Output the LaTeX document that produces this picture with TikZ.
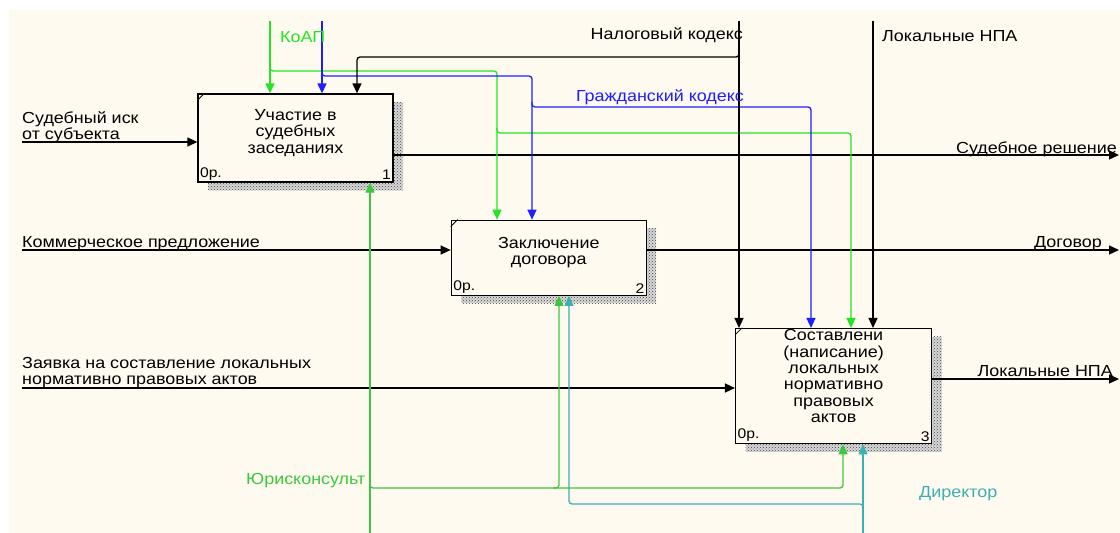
\documentclass[tikz,border=0pt]{standalone}
\usepackage{fontspec}
\setmainfont{Liberation Sans}[FakeStretch=1.12]
\usetikzlibrary{arrows.meta, positioning, calc, patterns}
\definecolor{paper}{HTML}{FFFAF0}
\definecolor{kgreen}{HTML}{22E622}
\definecolor{jgreen}{HTML}{3CC83C}
\definecolor{gblue}{HTML}{1E1EFF}
\definecolor{dcyan}{HTML}{3AB0B0}

\begin{document}
\begin{tikzpicture}[
    x=1pt, y=-1pt,
    node distance=37pt and 57pt,
    idef/.style={rectangle, draw=black, line width=1.3pt, fill=paper, minimum width=195pt, inner sep=0pt,
        preaction={draw=none, fill=black!15, transform canvas={xshift=10pt, yshift=-8pt}},
        preaction={draw=none, pattern=crosshatch dots, pattern color=black!75, transform canvas={xshift=10pt, yshift=-8pt}}},
    btxt/.style={align=center, font=\fontsize{16}{16.4}\selectfont, yshift=5pt},
    num/.style={font=\fontsize{14}{14}\selectfont, inner sep=2.5pt},
    lbl/.style={font=\fontsize{16}{16}\selectfont, inner sep=0pt, align=left},
    arrow/.style={-{Triangle[length=10pt, width=9pt]}, line width=1.3pt, rounded corners=3pt}
]
\useasboundingbox (0,0) rectangle (1120,533);
\fill[white] (0,0) rectangle (1120,533);
\fill[paper] (9,10) rectangle (1120,533);

% activity boxes
\node (box1) [idef, minimum height=88pt,
    label={[btxt]center:Участие в\\судебных\\заседаниях},
    label={[num, anchor=south west]south west:0р.},
    label={[num, anchor=south east]south east:1}] at (295.5,138) {};
\node (box2) [idef, minimum height=75pt, below right=37pt and 57pt of box1,
    label={[btxt]center:Заключение\\договора},
    label={[num, anchor=south west]south west:0р.},
    label={[num, anchor=south east]south east:2}] {};
\node (box3) [idef, minimum width=196pt, minimum height=115pt, below right=32pt and 88pt of box2,
    label={[btxt, yshift=5pt]center:Составлени\\(написание)\\локальных\\нормативно\\правовых\\актов},
    label={[num, anchor=south west]south west:0р.},
    label={[num, anchor=south east]south east:3}] {};
\foreach \b in {box1,box2,box3}
    \draw[line width=0.8pt] ($(\b.north west)+(0,7)$) -- ($(\b.north west)+(7,0)$);

% free ends
\coordinate (in1) at (22,142);
\coordinate (in2) at (22,250);
\coordinate (in3) at (22,388);
\coordinate (out1) at (1119,155);
\coordinate (out2) at (1119,250);
\coordinate (out3) at (1119,379);
\coordinate (koap) at (270,21);
\coordinate (gk) at (322,21);
\coordinate (nk) at (739,21);
\coordinate (lnpa) at (873,21);
\coordinate (jur) at (370,533);
\coordinate (dir) at (863,533);

% inputs and outputs
\draw[arrow] (in1) -- (in1 -| box1.west);
\draw[arrow] (in2) -- (in2 -| box2.west);
\draw[arrow] (in3) -- (in3 -| box3.west);
\draw[arrow] (out1 -| box1.east) -- (out1);
\draw[arrow] (out2 -| box2.east) -- (out2);
\draw[arrow] (out3 -| box3.east) -- (out3);

% controls
\draw[arrow, kgreen] (koap) -- (koap |- box1.north);
\draw[arrow, kgreen] (270,66) |- (497,71) -- (497,0 |- box2.north);
\draw[arrow, kgreen] (497,128) |- (851,133) -- (851,0 |- box3.north);
\draw[arrow, gblue] (gk) -- (gk |- box1.north);
\draw[arrow, gblue] (322,71) |- (532,76) -- (532,0 |- box2.north);
\draw[arrow, gblue] (532,102) |- (811,107) -- (811,0 |- box3.north);
\draw[arrow] (nk) -- (nk |- box3.north);
\draw[arrow] (739,51) |- (357,57) -- (357,0 |- box1.north);
\draw[arrow] (lnpa) -- (lnpa |- box3.north);

% mechanisms
\draw[arrow, jgreen] (jur) -- (jur |- box1.south);
\draw[arrow, jgreen] (370,484) |- (843,488) -- (843,0 |- box3.south);
\draw[arrow, jgreen] (553,488) -| (559,0 |- box2.south);
\draw[arrow, dcyan] (dir) -- (dir |- box3.south);
\draw[arrow, dcyan] (863,508) |- (569,504) -- (569,0 |- box2.south);

% labels
\node (l-koap) [lbl, kgreen, anchor=base west] at (280,42) {КоАП};
\node (l-nk) [lbl, anchor=base east] at (743,39) {Налоговый кодекс};
\node (l-gk) [lbl, gblue, anchor=base east] at (744,101) {Гражданский кодекс};
\node (l-lnpa) [lbl, anchor=base west] at (882,41) {Локальные НПА};
\node (l-in1) [lbl, anchor=north west] at (22,111) {Судебный иск\\от субъекта};
\node (l-in2) [lbl, anchor=base west] at (22,247) {Коммерческое предложение};
\node (l-in3) [lbl, anchor=north west] at (22,357) {Заявка на составление локальных\\нормативно правовых актов};
\node (l-out1) [lbl, anchor=base east] at (1117,153) {Судебное решение};
\node (l-out2) [lbl, anchor=base east] at (1102,247) {Договор};
\node (l-out3) [lbl, anchor=base east] at (1113,376) {Локальные НПА};
\node (l-jur) [lbl, jgreen, anchor=base west] at (246,484) {Юрисконсульт};
\node (l-dir) [lbl, dcyan, anchor=base west] at (919,497) {Директор};
\end{tikzpicture}
\end{document}
